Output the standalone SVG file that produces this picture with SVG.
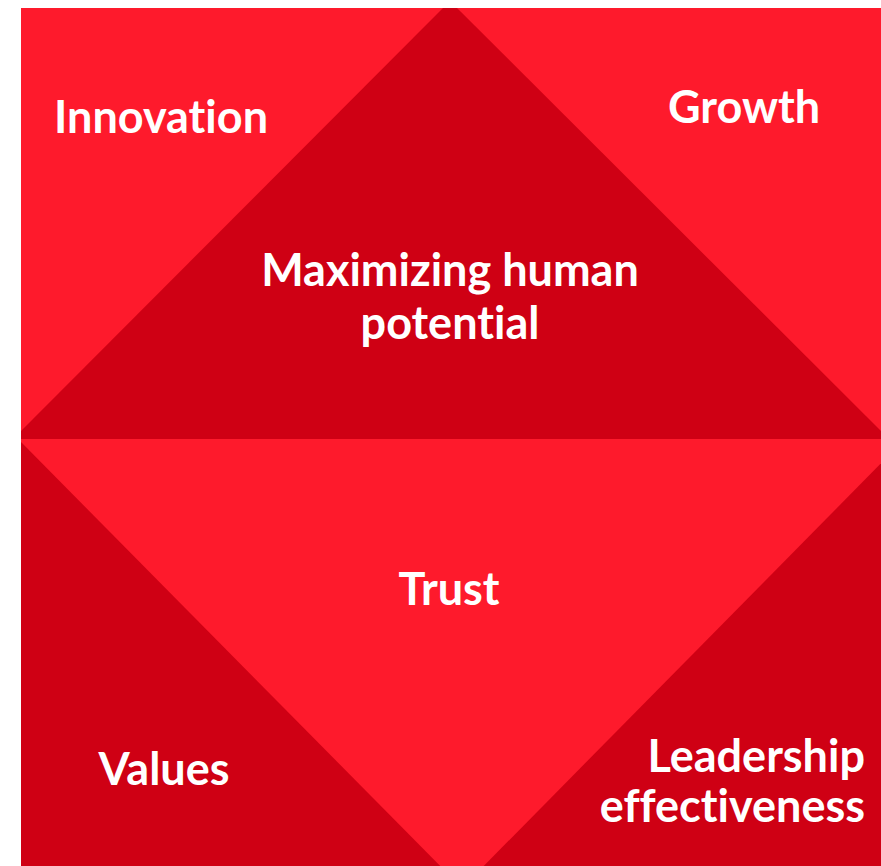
<svg xmlns="http://www.w3.org/2000/svg" width="881" height="866" viewBox="0 0 881 866">
<style>
.l{fill:#FE1A2C}
.d{fill:#CF0014}
text{font-family:Lato,"Open Sans","Liberation Sans",sans-serif;font-weight:700;font-size:45px;fill:#fff;font-variant-ligatures:none;font-feature-settings:"liga" 0}
</style>
<defs><clipPath id="c"><rect x="21" y="8" width="860" height="858"/></clipPath></defs>
<rect width="881" height="866" fill="#fff"/>
<g clip-path="url(#c)">
<g id="innovation-bg"><rect class="l" x="21" y="8" width="860" height="431"/></g>
<g id="values-bg"><rect class="d" x="21" y="439" width="860" height="427"/></g>
<g id="maximizing"><polygon class="d" points="450,1 13,439 889,439"/></g>
<g id="trust"><polygon class="l" points="18,439 905,439 462,888"/></g>
</g>
<g id="labels">
<text x="54" y="133">Innovation</text>
<text x="668" y="123">Growth</text>
<text x="450" y="286" text-anchor="middle">Maximizing human</text>
<text x="450" y="339" text-anchor="middle">potential</text>
<text x="449" y="605" text-anchor="middle">Trust</text>
<text x="164" y="785" text-anchor="middle">Values</text>
<text x="865" y="772" text-anchor="end">Leadership</text>
<text x="865" y="822" text-anchor="end">effectiveness</text>
</g>
</svg>
